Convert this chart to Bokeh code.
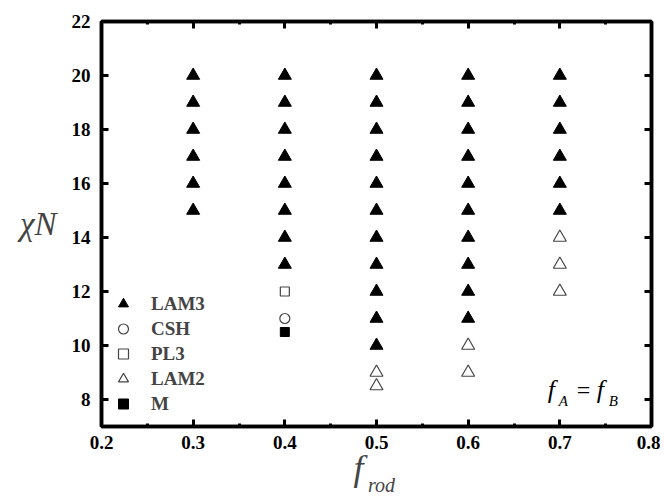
from bokeh.plotting import figure
from bokeh.models import (Range1d, LinearAxis, FixedTicker, Legend, LegendItem,
                          Label)
from bokeh.embed import file_html
from bokeh.resources import INLINE

# ---- data ----
lam3_x = [0.3]*6 + [0.4]*8 + [0.5]*11 + [0.6]*10 + [0.7]*6
lam3_y = ([15, 16, 17, 18, 19, 20] +
          [13, 14, 15, 16, 17, 18, 19, 20] +
          [10, 11, 12, 13, 14, 15, 16, 17, 18, 19, 20] +
          [11, 12, 13, 14, 15, 16, 17, 18, 19, 20] +
          [15, 16, 17, 18, 19, 20])
csh_x = [0.4]
csh_y = [11]
pl3_x = [0.4]
pl3_y = [12]
lam2_x = [0.5, 0.5, 0.6, 0.6, 0.7, 0.7, 0.7]
lam2_y = [9, 8.5, 10, 9, 12, 13, 14]
m_x = [0.4]
m_y = [10.5]

x_ticks = [0.2, 0.3, 0.4, 0.5, 0.6, 0.7, 0.8]
x_minor = [0.25, 0.35, 0.45, 0.55, 0.65, 0.75]
y_ticks = [8, 10, 12, 14, 16, 18, 20, 22]

FONT = "Liberation Serif"
NB = "\u00a0"

p = figure(width=660, height=498, output_backend="svg", toolbar_location=None,
           x_range=Range1d(0.2, 0.8), y_range=Range1d(7, 22),
           min_border_left=101, min_border_right=9, min_border_top=21,
           min_border_bottom=71, x_axis_location=None, y_axis_location=None)
p.grid.visible = False
p.outline_line_color = "black"
p.outline_line_width = 3.5
p.background_fill_color = "white"
p.border_fill_color = "white"

def style_axis(ax, ticks, show_labels, minor):
    ax.ticker = FixedTicker(ticks=ticks, minor_ticks=minor)
    ax.axis_line_width = 3.5
    ax.axis_line_color = "black"
    ax.major_tick_in = 7
    ax.major_tick_out = 0
    ax.major_tick_line_width = 3
    ax.minor_tick_in = 3
    ax.minor_tick_out = 0
    ax.minor_tick_line_width = 3
    if show_labels:
        ax.major_label_text_font = FONT
        ax.major_label_text_font_style = "bold"
        ax.major_label_text_font_size = "19px"
        ax.major_label_text_color = "black"
    else:
        ax.major_label_overrides = {t: "" for t in ticks}

xb = LinearAxis()
style_axis(xb, x_ticks, True, x_minor)
xb.major_label_standoff = 9
xb.axis_label = "f" + NB * 4
xb.axis_label_text_font = FONT
xb.axis_label_text_font_style = "italic"
xb.axis_label_text_font_size = "36px"
xb.axis_label_standoff = -4
p.add_layout(xb, "below")

# second (invisible) axis that only carries the subscript "rod"
xs = LinearAxis()
xs.ticker = FixedTicker(ticks=[])
xs.axis_line_color = None
xs.major_tick_in = 0
xs.major_tick_out = 0
xs.minor_tick_in = 0
xs.minor_tick_out = 0
xs.major_label_standoff = 0
xs.axis_label = NB * 2 + "rod"
xs.axis_label_text_font = FONT
xs.axis_label_text_font_style = "italic"
xs.axis_label_text_font_size = "20px"
xs.axis_label_standoff = -17
p.add_layout(xs, "below")

xt = LinearAxis()
style_axis(xt, x_ticks, False, x_minor)
p.add_layout(xt, "above")

yl = LinearAxis()
style_axis(yl, y_ticks, True, [])
yl.major_label_standoff = 11
yl.axis_label = "χN"
yl.axis_label_text_font = FONT
yl.axis_label_text_font_style = "italic"
yl.axis_label_text_font_size = "33px"
yl.axis_label_orientation = "horizontal"
yl.axis_label_standoff = 12
p.add_layout(yl, "left")

yr = LinearAxis()
style_axis(yr, y_ticks, False, [])
p.add_layout(yr, "right")

gray = "#444444"
r_lam3 = p.scatter(lam3_x, lam3_y, marker="triangle", size=13,
                   fill_color="black", line_color="black")
r_csh = p.scatter(csh_x, csh_y, marker="circle", size=10,
                  fill_color="white", line_color=gray, line_width=1.2)
r_pl3 = p.scatter(pl3_x, pl3_y, marker="square", size=9,
                  fill_color="white", line_color=gray, line_width=1.2)
r_lam2 = p.scatter(lam2_x, lam2_y, marker="triangle", size=13,
                   fill_color="white", line_color=gray, line_width=1.2)
r_m = p.scatter(m_x, m_y, marker="square", size=9,
                fill_color="black", line_color="black")

legend = Legend(items=[
    LegendItem(label="LAM3", renderers=[r_lam3]),
    LegendItem(label="CSH", renderers=[r_csh]),
    LegendItem(label="PL3", renderers=[r_pl3]),
    LegendItem(label="LAM2", renderers=[r_lam2]),
    LegendItem(label="M", renderers=[r_m]),
], location=(7, 10))
legend.border_line_color = None
legend.background_fill_alpha = 0
legend.label_text_font = FONT
legend.label_text_font_style = "bold"
legend.label_text_font_size = "19px"
legend.glyph_width = 30
legend.glyph_height = 25
legend.label_height = 25
legend.spacing = 0
legend.padding = 2
legend.margin = 0
legend.label_standoff = 13
p.add_layout(legend, "center")

# f_A = f_B annotation
p.add_layout(Label(x=0.7, y=8, x_offset=-12, y_offset=-4, text="f",
                   text_font=FONT, text_font_style="italic",
                   text_font_size="26px", text_color="black"))
p.add_layout(Label(x=0.7, y=8, x_offset=-1, y_offset=-9, text="A",
                   text_font=FONT, text_font_style="italic",
                   text_font_size="15px", text_color="black"))
p.add_layout(Label(x=0.7, y=8, x_offset=17, y_offset=-3, text="=",
                   text_font=FONT,
                   text_font_size="24px", text_color="black"))
p.add_layout(Label(x=0.7, y=8, x_offset=37, y_offset=-4, text="f",
                   text_font=FONT, text_font_style="italic",
                   text_font_size="26px", text_color="black"))
p.add_layout(Label(x=0.7, y=8, x_offset=49, y_offset=-9, text="B",
                   text_font=FONT, text_font_style="italic",
                   text_font_size="15px", text_color="black"))

open("out.html", "w").write(file_html(p, INLINE))
